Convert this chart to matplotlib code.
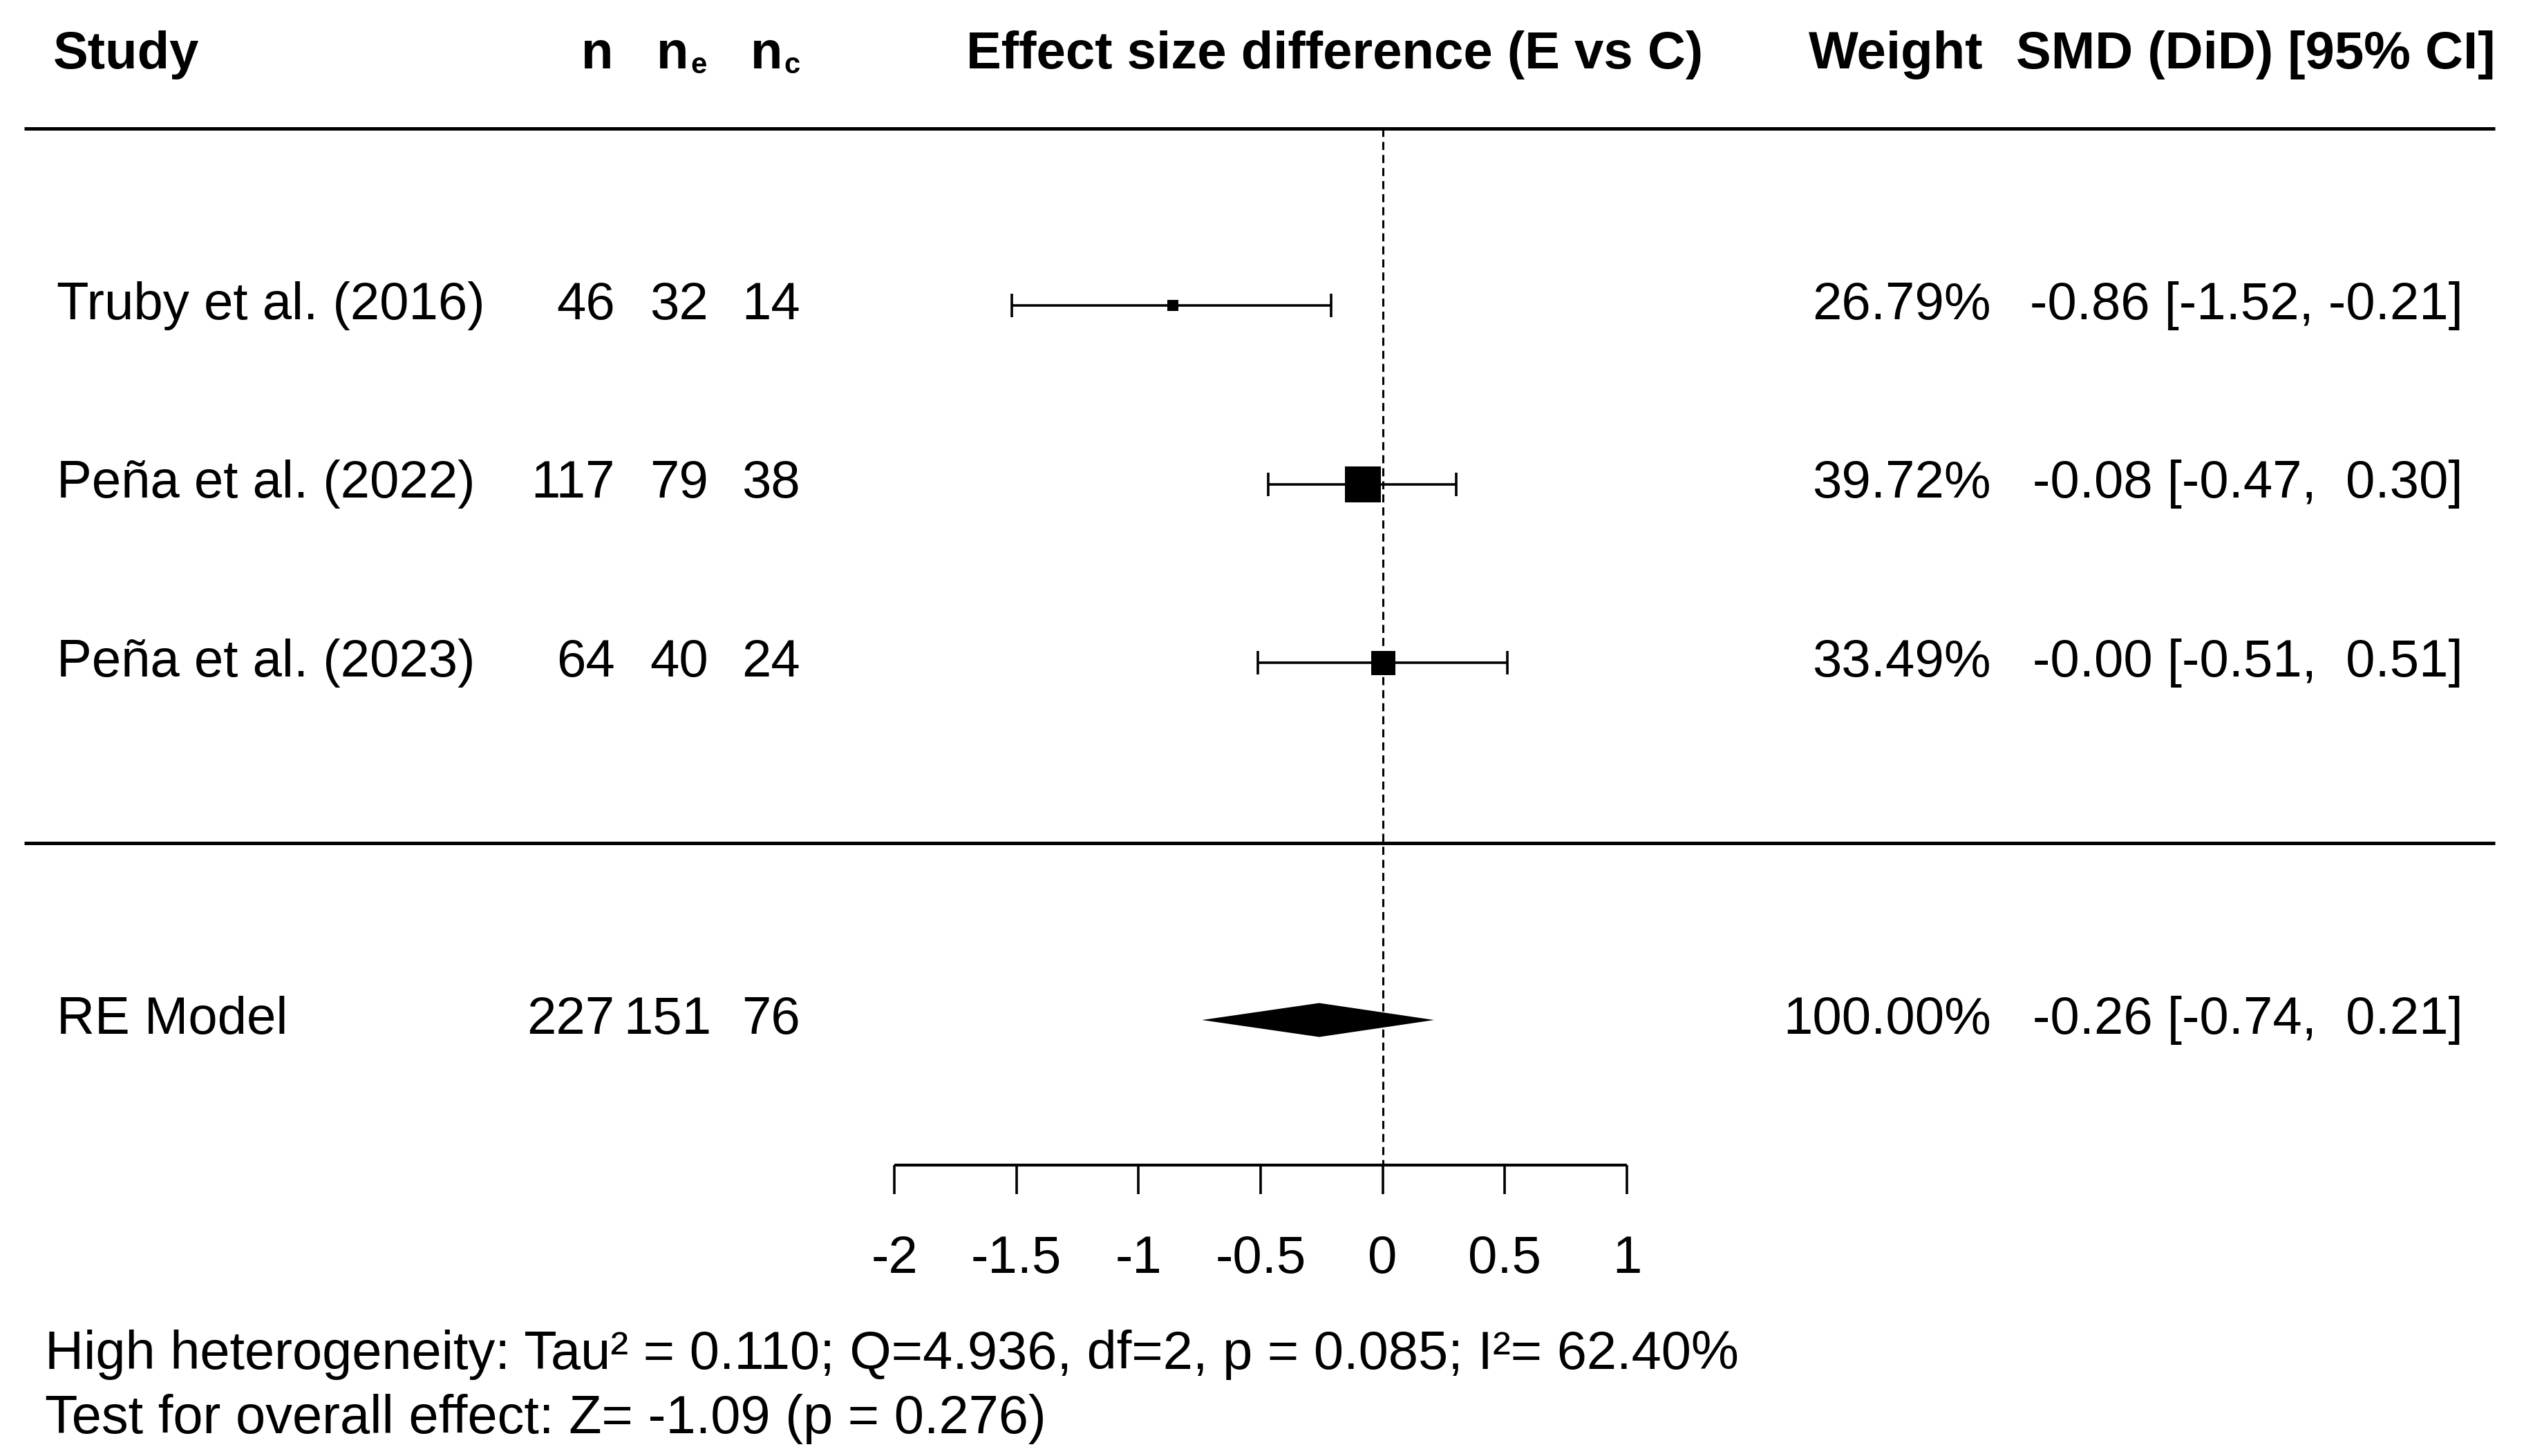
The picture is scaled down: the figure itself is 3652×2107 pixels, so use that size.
import matplotlib
matplotlib.use("Agg")
import matplotlib.pyplot as plt

# Daten der Studien
studies = ["Truby et al. (2016)", "Peña et al. (2022)", "Peña et al. (2023)"]
n_total = [46, 117, 64]
n_exp = [32, 79, 40]
n_ctrl = [14, 38, 24]
smd = [-0.86, -0.08, -0.00]
ci_lo = [-1.52, -0.47, -0.51]
ci_hi = [-0.21, 0.30, 0.51]
weights = [26.79, 39.72, 33.49]

# Gepoolter Effekt (RE Model)
pooled_label = "RE Model"
pooled_n = [227, 151, 76]
pooled_smd = -0.26
pooled_lo = -0.74
pooled_hi = 0.21
pooled_weight = 100.00

x_ticks = [-2, -1.5, -1, -0.5, 0, 0.5, 1]

footer_lines = [
    "High heterogeneity: Tau² = 0.110; Q=4.936, df=2, p = 0.085; I²= 62.40%",
    "Test for overall effect: Z= -1.09 (p = 0.276)",
]

# Layout (Pixel eines 1568 x 905 Rasters -> Datenkoordinaten)
PX0, PXS = 859.0, 151.7      # x-Pixel von 0 und Pixel pro Einheit
def px(xd):
    return (xd - PX0) / PXS

def row(yd):
    return 7 - (yd - 188.0) / 111.0

study_rows = [7, 6, 5]
pooled_row = 3
box_sizes = [6.1, 18.7, 12.6]   # Kantenlänge der Quadrate in pt

plt.rcParams["font.family"] = ["Liberation Sans", "DejaVu Sans"]
plt.rcParams["lines.scale_dashes"] = False
FS = 27.4

fig = plt.figure(figsize=(18.26, 10.535), dpi=200)
ax = fig.add_axes([0, 0, 1, 1])
ax.set_xlim(px(0), px(1568))
ax.set_ylim(row(903), row(-2))
ax.axis("off")

# Kopfzeile
hy = row(32)
ax.text(px(33), hy, "Study", fontsize=FS, fontweight="bold", ha="left", va="center")
ax.text(px(381), hy, "n", fontsize=FS, fontweight="bold", ha="right", va="center")
for xn, sub in [(428, "e"), (486, "c")]:
    ax.text(px(xn), hy, "n", fontsize=FS, fontweight="bold", ha="right", va="center")
    ax.text(px(xn + 1), row(39), sub, fontsize=FS * 0.55, fontweight="bold",
            ha="left", va="center")
ax.text(px(829), hy, "Effect size difference (E vs C)", fontsize=FS,
        fontweight="bold", ha="center", va="center")
ax.text(px(1232), hy, "Weight", fontsize=FS, fontweight="bold", ha="right", va="center")
ax.text(px(1550), hy, "SMD (DiD) [95% CI]", fontsize=FS, fontweight="bold",
        ha="right", va="center")

# Trennlinien
for yl in [row(78), row(522)]:
    ax.plot([px(15), px(1550)], [yl, yl], color="black", lw=1.8, solid_capstyle="butt")

# Nulllinie
ax.plot([0, 0], [row(78), row(722)], color="black", lw=1.1, dashes=(4.2, 2.6))

# Einzelstudien
for i, name in enumerate(studies):
    y = study_rows[i]
    ax.text(px(35), y, name, fontsize=FS, ha="left", va="center")
    ax.text(px(382), y, str(n_total[i]), fontsize=FS, ha="right", va="center")
    ax.text(px(440), y, str(n_exp[i]), fontsize=FS, ha="right", va="center")
    ax.text(px(497), y, str(n_ctrl[i]), fontsize=FS, ha="right", va="center")
    ax.errorbar([smd[i]], [y], xerr=[[smd[i] - ci_lo[i]], [ci_hi[i] - smd[i]]],
                fmt="none", ecolor="black", elinewidth=1.3, capsize=6.1, capthick=1.3)
    ax.plot([smd[i]], [y], marker="s", color="black", markersize=box_sizes[i],
            markeredgewidth=0, linestyle="none")
    ax.text(px(1237), y, f"{weights[i]:.2f}%", fontsize=FS, ha="right", va="center")
    ax.text(px(1530), y, f"{smd[i]:.2f} [{ci_lo[i]:.2f}, {ci_hi[i]:5.2f}]",
            fontsize=FS, ha="right", va="center")

# RE Model
yp = pooled_row
ax.text(px(35), yp, pooled_label, fontsize=FS, ha="left", va="center")
for xr, val in zip([382, 442, 497], pooled_n):
    ax.text(px(xr), yp, str(val), fontsize=FS, ha="right", va="center")
dh = 0.095
ax.fill([pooled_lo, pooled_smd, pooled_hi, pooled_smd],
        [yp, yp + dh, yp, yp - dh], color="black", lw=0)
ax.text(px(1237), yp, f"{pooled_weight:.2f}%", fontsize=FS, ha="right", va="center")
ax.text(px(1530), yp, f"{pooled_smd:.2f} [{pooled_lo:.2f}, {pooled_hi:5.2f}]",
        fontsize=FS, ha="right", va="center")

# x-Achse
ya, yt = row(722), row(740)
ax.plot([min(x_ticks), max(x_ticks)], [ya, ya], color="black", lw=1.5,
        solid_capstyle="butt")
ax.vlines(x_ticks, yt, ya, color="black", lw=1.3)
for t in x_ticks:
    ax.text(t, row(781), f"{t:g}", fontsize=FS, ha="center", va="center")

# Fusszeile
for k, line in enumerate(footer_lines):
    ax.text(px(28), row(840 + 40 * k), line, fontsize=FS * 1.02, ha="left", va="center")

fig.savefig("out.png", dpi=200)
